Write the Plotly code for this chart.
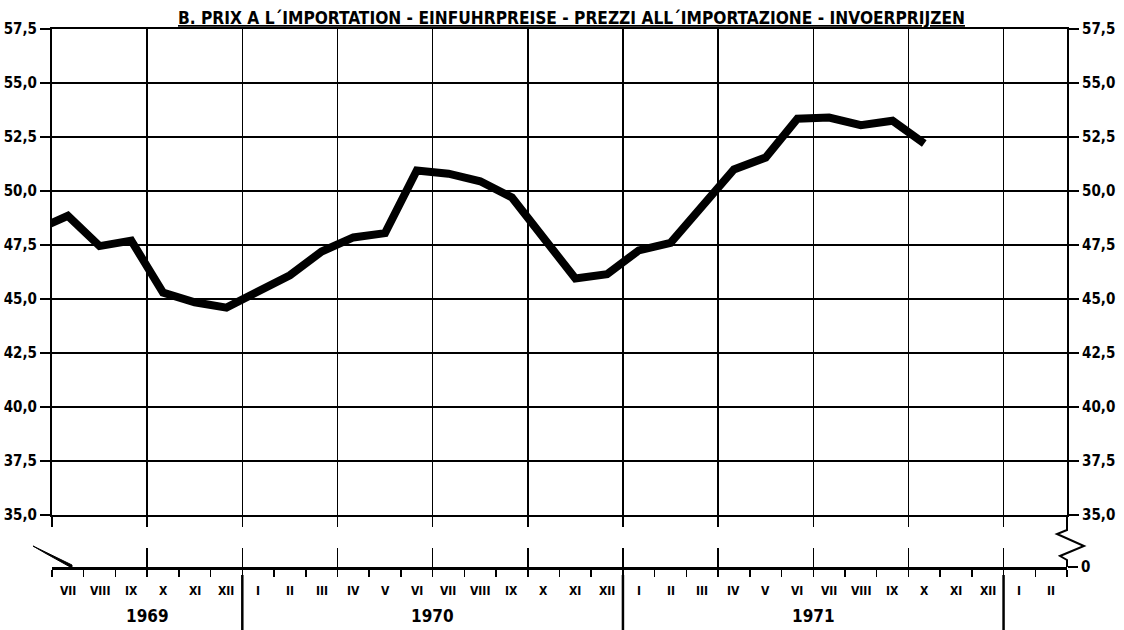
import plotly.graph_objects as go

# ---------------- data ----------------
# monthly index values, VI 1969 ... X 1971 (first point lies left of the frame)
value_months = ["VI-69", "VII-69", "VIII-69", "IX-69", "X-69", "XI-69", "XII-69",
                "I-70", "II-70", "III-70", "IV-70", "V-70", "VI-70", "VII-70", "VIII-70",
                "IX-70", "X-70", "XI-70", "XII-70",
                "I-71", "II-71", "III-71", "IV-71", "V-71", "VI-71", "VII-71", "VIII-71",
                "IX-71", "X-71"]
values = [48.2, 48.85, 47.45, 47.7, 45.3, 44.85, 44.6,
          45.4, 46.1, 47.2, 47.85, 48.05, 50.95, 50.8, 50.45,
          49.7, 47.85, 45.95, 46.15,
          47.25, 47.6, 49.35, 51.0, 51.55, 53.35, 53.4, 53.05,
          53.25, 52.2]

month_labels = ["VII", "VIII", "IX", "X", "XI", "XII",
                "I", "II", "III", "IV", "V", "VI", "VII", "VIII", "IX", "X", "XI", "XII",
                "I", "II", "III", "IV", "V", "VI", "VII", "VIII", "IX", "X", "XI", "XII",
                "I", "II"]
year_labels = ["1969", "1970", "1971"]
year_centers = [3, 12, 24]     # in months from VII 1969
year_breaks = [6, 18, 30]
y_ticks = [35.0, 37.5, 40.0, 42.5, 45.0, 47.5, 50.0, 52.5, 55.0, 57.5]
title_text = "B. PRIX A L´IMPORTATION - EINFUHRPREISE - PREZZI ALL´IMPORTAZIONE - INVOERPRIJZEN"

# ---------------- geometry (page pixels) ----------------
W, H = 1124, 630
L, R, T, B = 52, 1067, 29, 567          # plot frame
ML, MR, MT, MB = L, W - R, T, H - B
PW, PH = R - L, B - T
N_MONTHS = len(month_labels)
FONT = "DejaVu Sans Condensed"


def px_x(p):
    return (p - L) / PW


def px_y(p):
    return (B - p) / PH


main_bottom = px_y(515)
strip_top = px_y(548)

x_vals = [i - 0.5 for i in range(len(values))]   # mid-month positions
quarters = list(range(0, N_MONTHS, 3))
boundaries = list(range(0, N_MONTHS + 1))

fig = go.Figure()
fig.add_trace(go.Scatter(x=x_vals, y=values, mode="lines",
                         line=dict(color="black", width=8),
                         xaxis="x", yaxis="y", hoverinfo="skip", showlegend=False))
fig.add_trace(go.Scatter(x=[0], y=[0], mode="markers", marker=dict(opacity=0),
                         xaxis="x2", yaxis="y2", hoverinfo="skip", showlegend=False))
fig.add_trace(go.Scatter(x=[0], y=[40], mode="markers", marker=dict(opacity=0),
                         xaxis="x", yaxis="y3", hoverinfo="skip", showlegend=False))

axis_common = dict(color="black", linecolor="black", tickcolor="black",
                   gridcolor="black", zeroline=False, automargin=False)
tick_font = dict(family=FONT, size=15, weight="bold")

fig.update_layout(
    width=W, height=H,
    margin=dict(l=ML, r=MR, t=MT, b=MB, pad=0, autoexpand=False),
    paper_bgcolor="white", plot_bgcolor="white",
    separators=",.",
    font=dict(family=FONT, color="black", size=15),
    showlegend=False,
    hovermode=False,
    xaxis=dict(domain=[0, 1], range=[0, N_MONTHS], anchor="y",
               tickvals=quarters + [N_MONTHS], showticklabels=False,
               showgrid=True, gridwidth=1.5,
               showline=True, mirror=True, linewidth=2,
               ticks="outside", ticklen=10, tickwidth=1.5, **axis_common),
    yaxis=dict(domain=[main_bottom, 1], range=[35, 57.5], anchor="x",
               tickvals=y_ticks, tickformat=".1f",
               showgrid=True, gridwidth=1.5,
               showline=True, linewidth=2,
               ticks="outside", ticklen=10, tickwidth=1.5,
               tickfont=tick_font, **axis_common),
    yaxis3=dict(overlaying="y", side="right", range=[35, 57.5], anchor="x",
                tickvals=y_ticks, tickformat=".1f", showgrid=False,
                showline=True, linewidth=2,
                ticks="outside", ticklen=10, tickwidth=1.5,
                tickfont=tick_font, **axis_common),
    xaxis2=dict(domain=[0, 1], range=[0, N_MONTHS], anchor="y2",
                tickvals=quarters, showticklabels=False,
                showgrid=True, gridwidth=1.5,
                showline=True, linewidth=2.5,
                ticks="outside", ticklen=7, tickwidth=1.5,
                minor=dict(tickvals=boundaries, ticks="outside", ticklen=7,
                           tickwidth=1.5, tickcolor="black", showgrid=False),
                **axis_common),
    yaxis2=dict(domain=[0, strip_top], range=[0, 1], anchor="x2", side="right",
                tickvals=[0], ticktext=["0"], showgrid=False, showline=False,
                ticks="outside", ticklen=10, tickwidth=1.5,
                tickfont=tick_font, **axis_common),
)

annotations = []
annotations.append(dict(text=title_text, xref="paper", yref="paper",
                        x=px_x(571), y=px_y(18), xanchor="center", yanchor="middle",
                        showarrow=False,
                        font=dict(family=FONT, size=17.2, weight="bold", lineposition="under")))
for i, lab in enumerate(month_labels):
    annotations.append(dict(text=lab, xref="x2", yref="paper", x=i + 0.5, y=px_y(591),
                            xanchor="center", yanchor="middle", showarrow=False,
                            font=dict(family=FONT, size=12, weight="bold")))
for lab, c in zip(year_labels, year_centers):
    annotations.append(dict(text=lab, xref="x2", yref="paper", x=c, y=px_y(616),
                            xanchor="center", yanchor="middle", showarrow=False,
                            font=dict(family=FONT, size=17, weight="bold")))
fig.update_layout(annotations=annotations)

shapes = []
for b in year_breaks:
    shapes.append(dict(type="line", xref="x2", yref="paper", x0=b, x1=b,
                       y0=px_y(575), y1=px_y(630),
                       line=dict(color="black", width=2.5)))
# axis-break zigzag on the right edge
zz = [(1067, 515), (1067, 530), (1057, 534), (1084, 546), (1060, 556), (1067, 560), (1067, 567)]
path = "M " + " L ".join(f"{px_x(a):.5f},{px_y(b):.5f}" for a, b in zz)
shapes.append(dict(type="path", xref="paper", yref="paper", path=path,
                   line=dict(color="black", width=2)))
# break stroke on the left end of the zero line
wd = [(33, 546), (72, 565), (72, 568), (45, 553)]
path2 = "M " + " L ".join(f"{px_x(a):.5f},{px_y(b):.5f}" for a, b in wd) + " Z"
shapes.append(dict(type="path", xref="paper", yref="paper", path=path2,
                   fillcolor="black", line=dict(color="black", width=1)))
fig.update_layout(shapes=shapes)

fig.write_html("out.html",
               config={"displayModeBar": False, "staticPlot": True},
               post_script="document.body.style.margin='0px';"
                           "document.body.style.overflow='hidden';")
